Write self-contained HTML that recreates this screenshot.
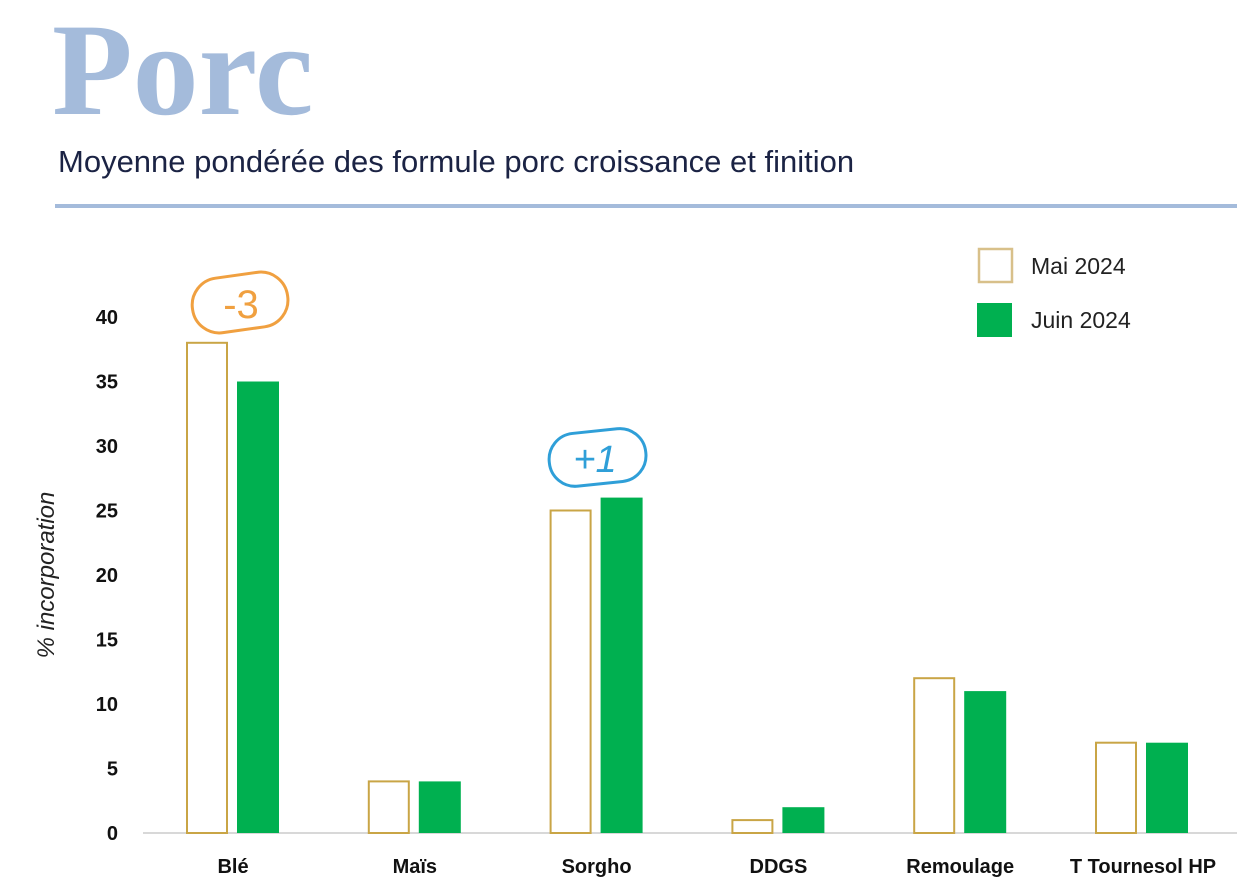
<!DOCTYPE html>
<html><head><meta charset="utf-8"><style>
body{margin:0;background:#fff;width:1237px;height:891px;overflow:hidden;font-family:"Liberation Sans",sans-serif}
svg{display:block}
</style></head><body>
<svg id="chart" width="1237" height="891">
<text x="52" y="114" font-family="Liberation Serif" font-weight="bold" font-size="132" fill="#a4bbdb">Porc</text>
<text x="58" y="172" font-size="31" fill="#1b2344">Moyenne pondérée des formule porc croissance et finition</text>
<rect x="55" y="204" width="1182" height="4" fill="#a4bbdb"/>
<text transform="translate(54,575) rotate(-90)" text-anchor="middle" font-size="24" font-style="italic" fill="#222">% incorporation</text>
<g id="yticks"></g>
<line x1="143" x2="1237" y1="833" y2="833" stroke="#ccc" stroke-width="1.5"/>
<g id="bars"></g>
<g id="xlabels"></g>
<g>
<rect x="979" y="249" width="33" height="33" fill="#fff" stroke="#d8c08a" stroke-width="2.5"/>
<text x="1031" y="274" font-size="23" fill="#222">Mai 2024</text>
<rect x="977" y="303" width="35" height="34" fill="#00b050"/>
<text x="1031" y="328" font-size="23" fill="#222">Juin 2024</text>
</g>
<g>
<rect x="192" y="275" width="96" height="55" rx="27" fill="none" stroke="#f0a040" stroke-width="3" transform="rotate(-8 240 302)"/>
<text x="241" y="318" text-anchor="middle" font-size="40" fill="#f0a040">-3</text>
</g>
<g>
<rect x="549" y="431" width="97" height="53" rx="26" fill="none" stroke="#2f9fd8" stroke-width="3" transform="rotate(-6 597 457)"/>
<text x="595" y="472" text-anchor="middle" font-size="38" font-style="italic" fill="#2f9fd8">+1</text>
</g>
</svg>
<script>
const categories=["Blé","Maïs","Sorgho","DDGS","Remoulage","T Tournesol HP"];
const mai2024=[38,4,25,1,12,7];
const juin2024=[35,4,26,2,11,7];
const yTicks=[0,5,10,15,20,25,30,35,40];
const NS="http://www.w3.org/2000/svg";
const y=v=>833-v*12.9;
const cx=i=>232+i*181.8;
const yt=document.getElementById('yticks');
yTicks.forEach(t=>{
 const e=document.createElementNS(NS,'text');
 
 
 e.setAttribute('x',118);e.setAttribute('y',y(t)+7);
 e.setAttribute('text-anchor','end');e.setAttribute('font-size','20');e.setAttribute('font-weight','bold');e.setAttribute('fill','#111');
 e.textContent=t;yt.appendChild(e);
});
const bg=document.getElementById('bars');
categories.forEach((c,i)=>{
 const a=document.createElementNS(NS,'rect');
 
 
 a.setAttribute('x',cx(i)-45);a.setAttribute('width',40);
 a.setAttribute('y',y(mai2024[i]));a.setAttribute('height',833-y(mai2024[i]));
 a.setAttribute('fill','#fff');a.setAttribute('stroke','#c9a546');a.setAttribute('stroke-width','2');
 bg.appendChild(a);
 const b=document.createElementNS(NS,'rect');
 
 
 b.setAttribute('x',cx(i)+5);b.setAttribute('width',42);
 b.setAttribute('y',y(juin2024[i]));b.setAttribute('height',833-y(juin2024[i]));
 b.setAttribute('fill','#00b050');
 bg.appendChild(b);
 const l=document.createElementNS(NS,'text');
 
 
 l.setAttribute('x',i==5?1143:cx(i)+1);l.setAttribute('y',873);
 l.setAttribute('text-anchor','middle');l.setAttribute('font-size','20');l.setAttribute('font-weight','bold');l.setAttribute('fill','#111');
 l.textContent=c;document.getElementById('xlabels').appendChild(l);
});
</script>
</body></html>
